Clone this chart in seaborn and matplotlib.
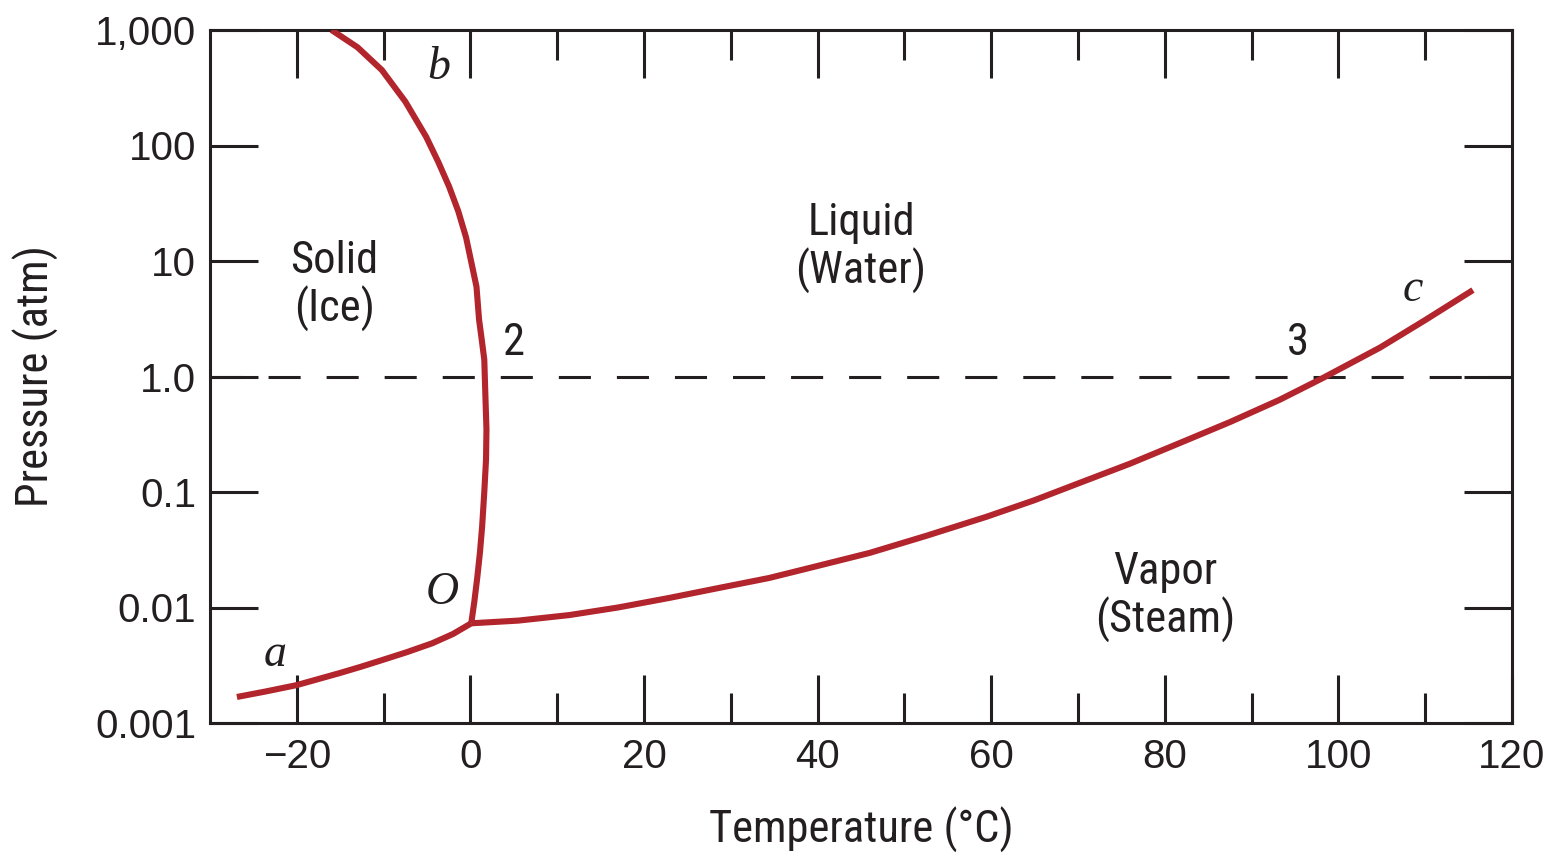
import matplotlib
matplotlib.use("Agg")
import matplotlib.pyplot as plt
import seaborn as sns
from matplotlib.ticker import FixedLocator, FixedFormatter, NullLocator

# ---- data ----
sublimation_T = [-26.9, -23.5, -20.0, -15.1, -12.6, -10.2, -7.3, -4.4, -2.0, 0.1]
sublimation_P = [0.00168, 0.00188, 0.00213, 0.0027, 0.00307, 0.0035, 0.00411, 0.0049, 0.0059, 0.0073]

melting_T = [0.1, 0.45, 0.8, 1.1, 1.35, 1.6, 1.8, 1.85, 1.75, 1.6, 1.3, 1.0, 0.7,
             0.1, -0.5, -1.4, -2.45, -3.7, -5.1, -7.5, -10.2, -13.0, -16.0]
melting_P = [0.0073, 0.0112, 0.0184, 0.030, 0.05, 0.1, 0.19, 0.35, 0.6, 1.4, 2.1, 3.1, 6.0,
             9.8, 16, 27, 44, 72, 119, 240, 450, 708, 1000]

vaporization_T = [0.1, 5.5, 11.4, 17.0, 22.9, 28.5, 34.4, 40.0, 46.0, 52.5, 59.45, 65.0,
                  70.2, 76.0, 81.7, 87.5, 93.2, 98.2, 104.8, 110.0, 115.5]
vaporization_P = [0.0073, 0.0077, 0.0086, 0.0100, 0.0121, 0.0147, 0.018, 0.0229, 0.0297,
                  0.0417, 0.061, 0.085, 0.120, 0.176, 0.265, 0.403, 0.627, 0.97, 1.78, 3.08, 5.6]

y_ticks = [0.001, 0.01, 0.1, 1.0, 10, 100, 1000]
y_tick_labels = ["0.001", "0.01", "0.1", "1.0", "10", "100", "1,000"]
x_ticks = [-20, 0, 20, 40, 60, 80, 100, 120]
x_tick_labels = ["\u221220", "0", "20", "40", "60", "80", "100", "120"]
x_minor_ticks = [-10, 10, 30, 50, 70, 90, 110]

region_labels = ["Solid\n(Ice)", "Liquid\n(Water)", "Vapor\n(Steam)"]
region_T = [-15.7, 45.0, 80.0]
region_P = [6.1, 13.0, 0.0123]

point_labels = ["a", "b", "c", "O"]
point_T = [-22.5, -3.6, 108.6, -3.3]
point_P = [0.0039, 469, 5.6, 0.0134]

number_labels = ["2", "3"]
number_T = [5.0, 95.3]
number_P = [1.95, 1.95]

# ---- style ----
sns.set_theme(style="ticks")
text_family = ["Roboto Condensed", "Liberation Sans Narrow", "Roboto", "DejaVu Sans"]
plt.rcParams["font.family"] = text_family
dark = "#231f20"
red = "#b3252d"

fig = plt.figure(figsize=(15.62, 8.57), dpi=100)
ax = fig.add_axes([210 / 1562, 1 - 723 / 857, 1302 / 1562, 693 / 857])

lw_curve = 4.4
for T, P in [(sublimation_T, sublimation_P), (melting_T, melting_P),
             (vaporization_T, vaporization_P)]:
    sns.lineplot(x=T, y=P, ax=ax, sort=False, estimator=None, color=red,
                 lw=lw_curve, solid_capstyle="butt", solid_joinstyle="round", zorder=3)

ax.axhline(1.0, color=dark, lw=2.2, dashes=(10.5, 8.5), zorder=2)

ax.set_yscale("log")
ax.set_xlim(-30, 120)
ax.set_ylim(0.001, 1000)

ax.yaxis.set_major_locator(FixedLocator(y_ticks))
ax.yaxis.set_major_formatter(FixedFormatter(y_tick_labels))
ax.yaxis.set_minor_locator(NullLocator())
ax.xaxis.set_major_locator(FixedLocator(x_ticks))
ax.xaxis.set_major_formatter(FixedFormatter(x_tick_labels))
ax.xaxis.set_minor_locator(FixedLocator(x_minor_ticks))

for s in ax.spines.values():
    s.set_visible(True)
    s.set_linewidth(2.2)
    s.set_color(dark)

ax.tick_params(axis="both", which="major", direction="in", length=34.5, width=2.2,
               color=dark, labelcolor=dark, labelsize=30,
               top=True, right=True, pad=10)
ax.tick_params(axis="x", which="minor", direction="in", length=21.5, width=2.2,
               color=dark, top=True, bottom=True)
ax.tick_params(axis="x", which="major", pad=11)
for lab in ax.get_xticklabels() + ax.get_yticklabels():
    lab.set_family(["Liberation Sans", "DejaVu Sans"])
    lab.set_fontsize(29)

ax.set_xlabel("Temperature (\u00b0C)", fontsize=32, color=dark, labelpad=22)
ax.set_ylabel("Pressure (atm)", fontsize=32, color=dark, labelpad=26)

for txt, T, P in zip(region_labels, region_T, region_P):
    ax.text(T, P, txt, ha="center", va="center", fontsize=32, color=dark,
            linespacing=1.1)
for txt, T, P in zip(point_labels, point_T, point_P):
    ax.text(T, P, txt, ha="center", va="center", fontsize=33, color=dark,
            family=["Liberation Serif"], style="italic")
for txt, T, P in zip(number_labels, number_T, number_P):
    ax.text(T, P, txt, ha="center", va="center", fontsize=32, color=dark)

fig.savefig("out.png", dpi=100)
